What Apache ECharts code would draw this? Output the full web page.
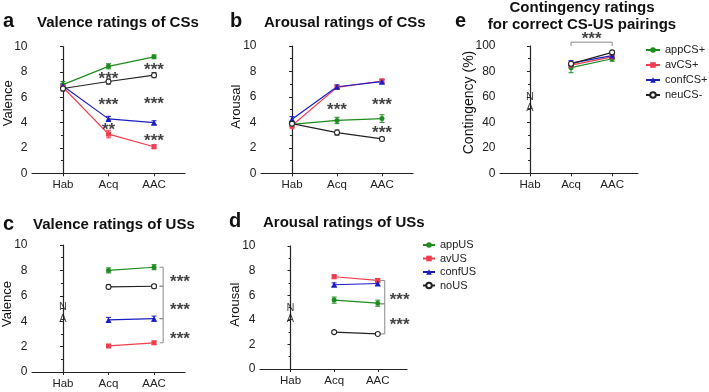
<!DOCTYPE html>
<html>
<head>
<meta charset="utf-8">
<script src="https://cdn.jsdelivr.net/npm/echarts@6/dist/echarts.min.js"></script>
<style>
html, body { margin: 0; padding: 0; background: #fff; }
#chart { width: 709px; height: 392px; }
</style>
</head>
<body>
<div id="chart"></div>
<script>
const phases = ['Hab', 'Acq', 'AAC']
const csNames = ['appCS+', 'avCS+', 'confCS+', 'neuCS-']
const usNames = ['appUS', 'avUS', 'confUS', 'noUS']

// a: valence ratings of CSs (app, av, conf, neu)
const valCsApp = [7.0, 8.45, 9.2]
const valCsAv = [6.8, 3.1, 2.1]
const valCsConf = [6.9, 4.3, 4.0]
const valCsNeu = [6.7, 7.25, 7.75]
const valCsErr = [[0.25, 0.2, 0.15], [0.2, 0.3, 0.15], [0.2, 0.2, 0.15], [0.2, 0.2, 0.2]]

// b: arousal ratings of CSs
const aroCsApp = [3.85, 4.15, 4.3]
const aroCsAv = [3.75, 6.75, 7.25]
const aroCsConf = [4.25, 6.8, 7.2]
const aroCsNeu = [3.9, 3.2, 2.7]
const aroCsErr = [[0.2, 0.25, 0.3], [0.25, 0.15, 0.15], [0.2, 0.15, 0.15], [0.2, 0.2, 0.15]]

// c: valence ratings of USs (no Hab rating)
const valUsApp = [null, 8.0, 8.25]
const valUsAv = [null, 2.05, 2.3]
const valUsConf = [null, 4.1, 4.2]
const valUsNo = [null, 6.7, 6.75]
const valUsErr = [[0, 0.2, 0.2], [0, 0.1, 0.12], [0, 0.2, 0.2], [0, 0.15, 0.15]]

// d: arousal ratings of USs
const aroUsApp = [null, 5.6, 5.35]
const aroUsAv = [null, 7.5, 7.2]
const aroUsConf = [null, 6.85, 6.95]
const aroUsNo = [null, 3.0, 2.85]
const aroUsErr = [[0, 0.25, 0.25], [0, 0.15, 0.15], [0, 0.15, 0.15], [0, 0.12, 0.1]]

// e: contingency (%)
const contApp = [null, 83, 90]
const contAv = [null, 85, 91.5]
const contConf = [null, 86.5, 92.5]
const contNeu = [null, 86, 95]
const contErr = [[0, 4, 2], [0, 2, 2], [0, 2, 2], [0, 1.5, 1.5]]

// significance stars [x, y, text]
const starsA = [[1, 7.84, '***'], [2, 8.55, '***'], [1, 5.8, '***'], [2, 5.85, '***'], [1, 3.76, '**'], [2, 2.9, '***']]
const starsB = [[1, 5.35, '***'], [2, 5.75, '***'], [2, 3.55, '***']]
const starsC = [[2.57, 7.48, '***'], [2.57, 5.22, '***'], [2.57, 2.99, '***']]
const starsD = [[2.5, 6.0, '***'], [2.5, 3.93, '***']]
const starsE = [[1.5, 109, '***']]
const naC = [[0, 5.1, 'N'], [0, 4.2, 'A']]
const naD = [[0, 5.0, 'N'], [0, 4.07, 'A']]
const naE = [[0, 60, 'N'], [0, 51.4, 'A']]

// comparison brackets
const bracketC = [[2.12, 8.25], [2.2, 8.25], [2.2, 6.75], [2.12, 6.75], [2.2, 6.75], [2.2, 4.2], [2.12, 4.2], [2.2, 4.2], [2.2, 2.3], [2.12, 2.3]]
const bracketD = [[2.06, 7.2], [2.16, 7.2], [2.16, 5.3], [2.06, 5.3], [2.16, 5.3], [2.16, 2.85], [2.06, 2.85]]
const bracketE = [[1, 100], [1, 103], [2, 103], [2, 100]]

const FONT = '"Liberation Sans", Arial, sans-serif'
const styles = [
  { color: '#1e8c1e', symbol: 'circle', size: 5 },
  { color: '#ef3e4e', symbol: 'rect', size: 5 },
  { color: '#1c1cc4', symbol: 'triangle', size: 6 },
  { color: '#222222', symbol: 'circle', size: 5, hollow: true },
]

const grids = [
  { left: 32, top: 46.7, width: 153, height: 126.6 },
  { left: 261, top: 46, width: 152, height: 127.3 },
  { left: 32, top: 245, width: 153, height: 127 },
  { left: 260, top: 246, width: 147, height: 123 },
  { left: 500, top: 46, width: 138, height: 127.3 },
]
const xRanges = [[-0.68, 2.68], [-0.69, 2.69], [-0.68, 2.68], [-0.7, 2.67], [-0.73, 2.63]]
const yMax = [10, 10, 10, 10, 100]

const series = []

function errRender(color) {
  return function (params, api) {
    const x = api.value(0)
    const lo = api.coord([x, api.value(1)])
    const hi = api.coord([x, api.value(2)])
    const w = 2.5
    const st = { stroke: color, lineWidth: 1 }
    return {
      type: 'group',
      children: [
        { type: 'line', shape: { x1: lo[0], y1: lo[1], x2: hi[0], y2: hi[1] }, style: st },
        { type: 'line', shape: { x1: lo[0] - w, y1: lo[1], x2: lo[0] + w, y2: lo[1] }, style: st },
        { type: 'line', shape: { x1: hi[0] - w, y1: hi[1], x2: hi[0] + w, y2: hi[1] }, style: st },
      ],
    }
  }
}

function addPanel(gi, names, means, errs) {
  means.forEach((m, k) => {
    const st = styles[k]
    series.push({
      type: 'custom',
      xAxisIndex: gi,
      yAxisIndex: gi,
      silent: true,
      z: 2,
      encode: { x: 0, y: [1, 2] },
      renderItem: errRender(st.color),
      data: m.map((v, i) => (v == null ? null : [i, v - errs[k][i], v + errs[k][i]])).filter(Boolean),
    })
    series.push({
      type: 'line',
      name: names[k],
      xAxisIndex: gi,
      yAxisIndex: gi,
      z: 3,
      symbol: st.symbol,
      symbolSize: st.size,
      showAllSymbol: true,
      lineStyle: { color: st.color, width: 1.2 },
      itemStyle: st.hollow
        ? { color: '#fff', borderColor: st.color, borderWidth: 1.1 }
        : { color: st.color },
      data: m.map((v, i) => (v == null ? null : [i, v])).filter(Boolean),
    })
  })
}

function addText(gi, data, size, bold) {
  series.push({
    type: 'scatter',
    xAxisIndex: gi,
    yAxisIndex: gi,
    silent: true,
    clip: false,
    symbolSize: 0,
    z: 5,
    label: {
      show: true,
      position: 'inside',
      formatter: p => p.data[2],
      fontSize: size,
      fontWeight: bold ? 'bold' : 'normal',
      fontFamily: FONT,
      color: '#111',
      offset: size > 12 ? [0, 5] : [0, 0],
    },
    data: data,
  })
}

function addBracket(gi, pts) {
  series.push({
    type: 'line',
    xAxisIndex: gi,
    yAxisIndex: gi,
    silent: true,
    clip: false,
    symbol: 'none',
    z: 1,
    lineStyle: { color: '#8a8a8a', width: 1 },
    data: pts,
  })
}

addPanel(0, csNames, [valCsApp, valCsAv, valCsConf, valCsNeu], valCsErr)
addPanel(1, csNames, [aroCsApp, aroCsAv, aroCsConf, aroCsNeu], aroCsErr)
addPanel(2, usNames, [valUsApp, valUsAv, valUsConf, valUsNo], valUsErr)
addPanel(3, usNames, [aroUsApp, aroUsAv, aroUsConf, aroUsNo], aroUsErr)
addPanel(4, csNames, [contApp, contAv, contConf, contNeu], contErr)

addText(0, starsA, 17, true)
addText(1, starsB, 17, true)
addText(2, starsC, 17, true)
addText(3, starsD, 17, true)
addText(4, starsE, 17, true)
addText(2, naC, 11)
addText(3, naD, 11)
addText(4, naE, 11)
addBracket(2, bracketC)
addBracket(3, bracketD)
addBracket(4, bracketE)

const axisLine = { lineStyle: { color: '#222', width: 1.2 } }

const xAxes = grids.map((g, i) => ({
  type: 'value',
  gridIndex: i,
  min: xRanges[i][0],
  max: xRanges[i][1],
  splitLine: { show: false },
  axisLine: { show: true, onZero: false, ...axisLine },
  axisTick: { show: true, customValues: [0, 1, 2], length: 3, lineStyle: { color: '#222' } },
  axisLabel: {
    customValues: [0, 1, 2],
    formatter: v => phases[Math.round(v)],
    margin: 6,
    fontSize: 11.5,
    fontFamily: FONT,
    color: '#222',
  },
}))

const yAxes = grids.map((g, i) => ({
  type: 'value',
  gridIndex: i,
  min: 0,
  max: yMax[i],
  interval: yMax[i] / 5,
  splitLine: { show: false },
  axisLine: { show: true, ...axisLine },
  axisTick: { show: true, length: 3, lineStyle: { color: '#222' } },
  minorTick: { show: true, splitNumber: 2, length: 2, lineStyle: { color: '#222' } },
  axisLabel: { margin: 4.5, fontSize: 12, fontFamily: FONT, color: '#222' },
}))

function txt(text, x, y, size, bold, extra) {
  return {
    type: 'text',
    x: x,
    y: y,
    silent: true,
    ...(extra || {}),
    style: {
      text: text,
      fontSize: size,
      fontWeight: bold ? 'bold' : 'normal',
      fontFamily: FONT,
      fill: '#111',
      align: (extra && extra.align) || 'left',
      verticalAlign: 'middle',
    },
  }
}
const rot = { rotation: Math.PI / 2, align: 'center' }

const graphics = [
  txt('a', 3, 21, 20, true),
  txt('b', 230, 21, 20, true),
  txt('c', 3, 224, 20, true),
  txt('d', 229, 221, 20, true),
  txt('e', 455, 21, 20, true),
  txt('Valence ratings of CSs', 37, 23, 15, true),
  txt('Arousal ratings of CSs', 264, 23, 15, true),
  txt('Valence ratings of USs', 33, 225, 15, true),
  txt('Arousal ratings of USs', 263, 223, 15, true),
  txt('Contingency ratings', 582, 8, 15, true, { align: 'center' }),
  txt('for correct CS-US pairings', 582, 24.5, 15, true, { align: 'center' }),
  txt('Valence', 8.3, 103.3, 13, false, rot),
  txt('Arousal', 236.7, 106.7, 13, false, rot),
  txt('Valence', 7.5, 304, 13, false, rot),
  txt('Arousal', 235.5, 304.7, 13, false, rot),
  txt('Contingency (%)', 469, 102.5, 14, false, rot),
]

const chart = echarts.init(document.getElementById('chart'))
chart.setOption({
  animation: false,
  backgroundColor: '#fff',
  grid: grids,
  xAxis: xAxes,
  yAxis: yAxes,
  legend: [
    {
      data: csNames,
      orient: 'vertical',
      left: 645,
      top: 44.5,
      padding: 0,
      itemWidth: 14,
      itemHeight: 7,
      itemGap: 4,
      textStyle: { fontSize: 11, fontFamily: FONT, color: '#222' },
    },
    {
      data: usNames,
      orient: 'vertical',
      left: 422,
      top: 239.5,
      padding: 0,
      itemWidth: 12,
      itemHeight: 7,
      itemGap: 2.5,
      textStyle: { fontSize: 11, fontFamily: FONT, color: '#222' },
    },
  ],
  graphic: graphics,
  series: series,
})
</script>
</body>
</html>
